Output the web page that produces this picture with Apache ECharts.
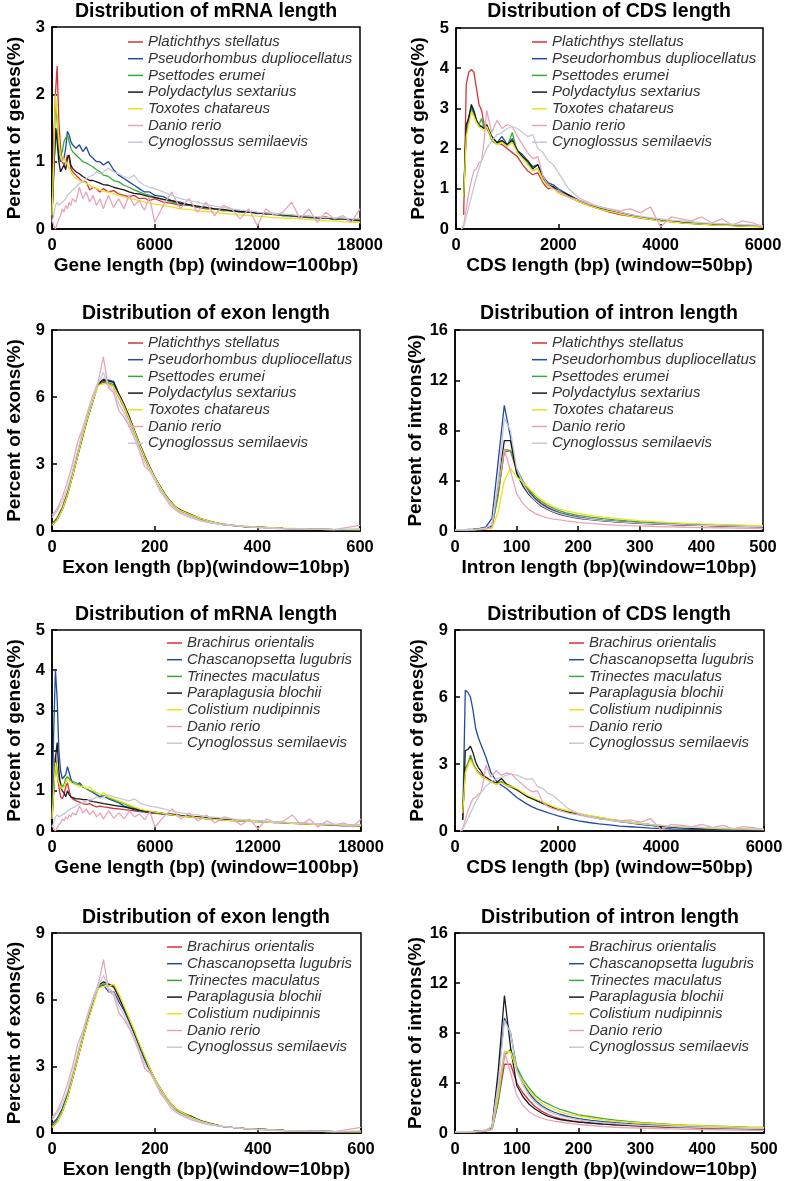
<!DOCTYPE html>
<html>
<head>
<meta charset="utf-8">
<script src="https://cdn.jsdelivr.net/npm/echarts@6/dist/echarts.min.js"></script>
<style>
  body { margin: 0; background: #fff; }
  #chart { width: 788px; height: 1181px; }
</style>
</head>
<body>
<div id="chart"></div>
<script>
// species names
const topSpecies = ['Platichthys stellatus', 'Pseudorhombus dupliocellatus', 'Psettodes erumei',
  'Polydactylus sextarius', 'Toxotes chatareus', 'Danio rerio', 'Cynoglossus semilaevis']
const bottomSpecies = ['Brachirus orientalis', 'Chascanopsetta lugubris', 'Trinectes maculatus',
  'Paraplagusia blochii', 'Colistium nudipinnis', 'Danio rerio', 'Cynoglossus semilaevis']
const speciesColors = ['#d8323a', '#1f4c9e', '#3aa93a', '#1a1a1a', '#ece21c', '#e6a6b8', '#c6c8d6']

// ---- mRNA length (window=100bp) ----
const mrnaX = [0, 100, 200, 300, 400, 500, 600, 700, 800, 900, 1000, 1100, 1200,
  1400, 1600, 1800, 2000, 2200, 2400, 2600, 2800, 3000,
  3300, 3600, 3900, 4200, 4500, 4800, 5100, 5400, 5700, 6000,
  6500, 7000, 7500, 8000, 8500, 9000, 9500, 10000, 10500, 11000, 11500, 12000,
  12500, 13000, 13500, 14000, 14500, 15000, 15500, 16000, 16500, 17000, 17500, 18000]
const mrnaPlatichthys = [0.15, 1.3, 2.0, 2.42, 1.6, 1.2, 1.0, 0.95, 1.0, 1.1, 1.05, 0.9, 0.85,
  0.8, 0.75, 0.7, 0.7, 0.58, 0.62, 0.6, 0.55, 0.6,
  0.55, 0.57, 0.52, 0.5, 0.48, 0.5, 0.45, 0.46, 0.42, 0.45,
  0.4, 0.38, 0.35, 0.36, 0.32, 0.3, 0.3, 0.27, 0.28, 0.25, 0.26, 0.24, 0.22, 0.23, 0.2, 0.21, 0.18, 0.19, 0.17, 0.18, 0.15, 0.16, 0.14, 0.15]
const mrnaPseudorhombus = [0.2, 0.9, 1.3, 1.5, 1.1, 1.0, 1.0, 1.05, 1.2, 1.45, 1.4, 1.3, 1.25,
  1.2, 1.25, 1.15, 1.22, 1.1, 1.05, 1.0, 1.0, 0.95,
  1.0, 0.88, 0.8, 0.75, 0.7, 0.65, 0.6, 0.55, 0.55, 0.5,
  0.48, 0.42, 0.4, 0.36, 0.33, 0.32, 0.3, 0.28, 0.27, 0.26, 0.25, 0.23, 0.24, 0.21, 0.2, 0.19, 0.18, 0.17, 0.16, 0.17, 0.14, 0.15, 0.13, 0.12]
const mrnaPsettodes = [0.2, 1.0, 1.85, 1.6, 1.2, 1.1, 1.15, 1.3, 1.35, 1.4, 1.3, 1.2, 1.15,
  1.1, 1.05, 1.0, 0.98, 0.95, 0.92, 0.88, 0.85, 0.8,
  0.78, 0.72, 0.7, 0.65, 0.62, 0.58, 0.55, 0.52, 0.5, 0.47,
  0.44, 0.4, 0.37, 0.35, 0.33, 0.31, 0.3, 0.28, 0.27, 0.25, 0.26, 0.24, 0.23, 0.22, 0.2, 0.2, 0.19, 0.18, 0.17, 0.17, 0.15, 0.15, 0.14, 0.13]
const mrnaPolydactylus = [0.2, 0.8, 1.5, 1.3, 1.0, 0.85, 0.9, 0.95, 0.88, 1.05, 1.1, 0.95, 0.9,
  0.85, 0.82, 0.78, 0.75, 0.72, 0.72, 0.7, 0.68, 0.66,
  0.65, 0.62, 0.6, 0.58, 0.55, 0.53, 0.52, 0.5, 0.48, 0.47,
  0.44, 0.42, 0.38, 0.36, 0.34, 0.32, 0.3, 0.29, 0.27, 0.26, 0.25, 0.24, 0.23, 0.22, 0.21, 0.2, 0.19, 0.18, 0.17, 0.16, 0.15, 0.15, 0.14, 0.13]
const mrnaToxotes = [0.2, 1.0, 2.0, 1.7, 1.3, 1.1, 1.0, 1.05, 1.0, 0.95, 0.9, 0.85, 0.8,
  0.75, 0.72, 0.7, 0.68, 0.65, 0.62, 0.6, 0.58, 0.56,
  0.55, 0.52, 0.5, 0.48, 0.45, 0.44, 0.42, 0.4, 0.38, 0.37,
  0.35, 0.33, 0.3, 0.29, 0.27, 0.26, 0.25, 0.23, 0.22, 0.21, 0.2, 0.19, 0.18, 0.17, 0.16, 0.16, 0.15, 0.14, 0.13, 0.12, 0.12, 0.11, 0.1, 0.1]
const mrnaDanio = [0.15, 0.05, 0.0, 0.08, 0.15, 0.2, 0.3, 0.25, 0.35, 0.3, 0.4, 0.35, 0.45,
  0.4, 0.62, 0.45, 0.55, 0.4, 0.5, 0.35, 0.45, 0.3,
  0.5, 0.32, 0.45, 0.3, 0.5, 0.35, 0.42, 0.28, 0.48, 0.1,
  0.35, 0.55, 0.3, 0.45, 0.25, 0.4, 0.2, 0.35, 0.3, 0.15, 0.3, 0.05, 0.3, 0.2, 0.25, 0.4, 0.15, 0.3, 0.1, 0.25, 0.15, 0.2, 0.1, 0.3]
const mrnaCynoglossus = [0.1, 0.2, 0.35, 0.4, 0.35, 0.38, 0.4, 0.42, 0.45, 0.5, 0.52, 0.55, 0.58,
  0.62, 0.68, 0.7, 0.75, 0.78, 0.8, 0.85, 0.82, 0.85,
  0.9, 0.85, 0.82, 0.78, 0.75, 0.8, 0.7, 0.65, 0.62, 0.6,
  0.55, 0.5, 0.45, 0.42, 0.4, 0.36, 0.34, 0.32, 0.3, 0.28, 0.27, 0.25, 0.24, 0.23, 0.22, 0.21, 0.2, 0.19, 0.18, 0.17, 0.17, 0.16, 0.15, 0.15]
const mrnaBrachirus = [0.3, 1.2, 1.9, 1.4, 1.1, 0.85, 0.8, 0.9, 1.1, 1.2, 1.0, 0.85, 0.8,
  0.75, 0.72, 0.68, 0.66, 0.68, 0.63, 0.6, 0.62, 0.6,
  0.58, 0.56, 0.55, 0.53, 0.52, 0.5, 0.48, 0.47, 0.45, 0.44,
  0.42, 0.4, 0.38, 0.36, 0.34, 0.32, 0.3, 0.29, 0.27, 0.26, 0.25, 0.24, 0.23, 0.22, 0.21, 0.2, 0.19, 0.18, 0.17, 0.16, 0.15, 0.15, 0.14, 0.13]
const mrnaChascanopsetta = [0.3, 2.5, 4.0, 3.3, 2.0, 1.5, 1.3, 1.35, 1.4, 1.6, 1.45, 1.3, 1.2,
  1.15, 1.2, 1.1, 1.05, 1.0, 0.95, 0.9, 0.85, 0.88,
  0.8, 0.75, 0.7, 0.62, 0.58, 0.52, 0.5, 0.48, 0.45, 0.45,
  0.42, 0.4, 0.37, 0.35, 0.33, 0.3, 0.29, 0.27, 0.26, 0.25, 0.24, 0.23, 0.22, 0.21, 0.2, 0.19, 0.18, 0.17, 0.16, 0.15, 0.14, 0.13, 0.13, 0.12]
const mrnaTrinectes = [0.3, 1.0, 1.8, 1.5, 1.3, 1.2, 1.1, 1.15, 1.3, 1.35, 1.3, 1.25, 1.22,
  1.2, 1.15, 1.1, 1.05, 1.0, 0.98, 0.95, 0.9, 0.88,
  0.82, 0.78, 0.72, 0.68, 0.62, 0.57, 0.53, 0.5, 0.48, 0.46,
  0.43, 0.4, 0.38, 0.36, 0.34, 0.32, 0.3, 0.28, 0.27, 0.26, 0.25, 0.24, 0.23, 0.22, 0.21, 0.2, 0.19, 0.18, 0.17, 0.16, 0.16, 0.15, 0.14, 0.14]
const mrnaParaplagusia = [0.3, 1.0, 1.8, 2.2, 1.5, 1.1, 1.0, 0.95, 0.85, 1.0, 0.9, 0.85, 0.82,
  0.8, 0.8, 0.78, 0.78, 0.75, 0.73, 0.72, 0.7, 0.68,
  0.66, 0.64, 0.62, 0.6, 0.57, 0.55, 0.52, 0.5, 0.48, 0.47,
  0.44, 0.42, 0.39, 0.37, 0.35, 0.33, 0.31, 0.29, 0.28, 0.26, 0.25, 0.24, 0.23, 0.22, 0.21, 0.2, 0.19, 0.18, 0.17, 0.16, 0.15, 0.15, 0.14, 0.13]
const mrnaColistium = [0.3, 1.0, 1.7, 1.4, 1.2, 1.1, 1.05, 1.1, 1.2, 1.3, 1.25, 1.2, 1.18,
  1.15, 1.1, 1.12, 1.05, 1.1, 1.0, 0.95, 0.9, 0.95,
  0.85, 0.8, 0.75, 0.7, 0.65, 0.6, 0.55, 0.52, 0.5, 0.47,
  0.44, 0.4, 0.37, 0.35, 0.33, 0.31, 0.29, 0.27, 0.26, 0.25, 0.24, 0.23, 0.22, 0.21, 0.2, 0.19, 0.18, 0.17, 0.16, 0.15, 0.15, 0.14, 0.13, 0.13]

// ---- CDS length (window=50bp) ----
const cdsX = [100, 150, 200, 250, 300, 350, 400, 450, 500, 550, 600,
  700, 800, 900, 1000, 1100, 1200, 1300, 1400, 1500, 1600, 1700, 1800, 1900, 2000,
  2200, 2400, 2600, 2800, 3000, 3200, 3400, 3600, 3800, 4000, 4200, 4400, 4600, 4800, 5000, 5200, 5400, 5600, 5800, 6000]
const cdsPlatichthys = [null, 0.35, 3.6, 3.9, 3.97, 3.9, 3.5, 3.1, 2.95, 2.6, 2.5,
  2.3, 2.15, 2.1, 2.0, 1.9, 1.8, 1.6, 1.45, 1.35, 1.4, 1.15, 1.0, 1.05, 0.9,
  0.8, 0.68, 0.58, 0.5, 0.42, 0.36, 0.32, 0.27, 0.24, 0.21, 0.18, 0.16, 0.14, 0.12, 0.11, 0.1, 0.09, 0.08, 0.07, 0.06]
const cdsPseudorhombus = [null, 0.8, 2.5, 2.8, 3.05, 2.9, 2.7, 2.6, 2.55, 2.5, 2.55,
  2.25, 2.15, 2.3, 2.1, 2.25, 1.95, 1.85, 1.7, 1.55, 1.6, 1.3, 1.15, 1.1, 1.0,
  0.85, 0.72, 0.62, 0.55, 0.48, 0.42, 0.36, 0.3, 0.26, 0.22, 0.2, 0.17, 0.15, 0.13, 0.12, 0.1, 0.09, 0.08, 0.07, 0.06]
const cdsPsettodes = [null, 0.8, 2.4, 2.7, 3.0, 2.85, 2.7, 2.6, 2.75, 2.5, 2.55,
  2.2, 2.1, 2.2, 2.05, 2.4, 1.9, 1.8, 1.65, 1.45, 1.5, 1.25, 1.1, 1.05, 0.95,
  0.82, 0.7, 0.6, 0.52, 0.45, 0.4, 0.34, 0.29, 0.25, 0.21, 0.19, 0.16, 0.14, 0.12, 0.11, 0.1, 0.09, 0.08, 0.07, 0.06]
const cdsPolydactylus = [null, 0.8, 2.6, 2.75, 3.1, 2.95, 2.7, 2.55, 2.55, 2.5, 2.6,
  2.3, 2.15, 2.2, 2.1, 2.2, 1.95, 1.8, 1.7, 1.5, 1.6, 1.3, 1.1, 1.05, 0.95,
  0.85, 0.7, 0.6, 0.52, 0.46, 0.4, 0.34, 0.29, 0.25, 0.21, 0.19, 0.16, 0.14, 0.12, 0.11, 0.1, 0.09, 0.08, 0.07, 0.06]
const cdsToxotes = [null, 0.8, 2.3, 2.6, 2.9, 2.8, 2.65, 2.55, 2.5, 2.45, 2.55,
  2.25, 2.1, 2.15, 2.05, 2.15, 1.9, 1.75, 1.6, 1.45, 1.5, 1.2, 1.05, 1.0, 0.9,
  0.8, 0.68, 0.58, 0.5, 0.44, 0.38, 0.32, 0.28, 0.24, 0.2, 0.18, 0.15, 0.13, 0.12, 0.1, 0.09, 0.08, 0.07, 0.06, 0.05]
const cdsDanio = [0.0, 0.1, 0.5, 0.9, 1.2, 1.45, 1.5, 1.65, 1.7, 2.2, 2.95,
  2.4, 2.7, 2.5, 2.6, 2.55, 2.3, 2.1, 1.9, 1.75, 1.8, 1.3, 1.1, 1.0, 0.95,
  0.8, 0.72, 0.62, 0.55, 0.5, 0.45, 0.5, 0.4, 0.55, 0.05, 0.3, 0.25, 0.2, 0.3, 0.15, 0.25, 0.1, 0.2, 0.15, 0.05]
const cdsCynoglossus = [0.0, 0.05, 0.3, 0.55, 0.8, 1.05, 1.3, 1.5, 1.7, 1.85, 2.0,
  2.2, 2.35, 2.4, 2.5, 2.55, 2.5, 2.4, 2.3, 2.35, 2.0, 1.9, 1.7, 1.6, 1.4,
  1.0, 0.78, 0.65, 0.55, 0.48, 0.42, 0.36, 0.32, 0.28, 0.25, 0.22, 0.2, 0.18, 0.16, 0.14, 0.13, 0.12, 0.11, 0.1, 0.09]
const cdsBrachirus = [null, 0.8, 2.8, 3.0, 3.3, 3.0, 2.8, 2.65, 2.55, 2.45, 2.4,
  2.25, 2.15, 2.2, 2.05, 1.95, 1.85, 1.7, 1.55, 1.45, 1.35, 1.25, 1.15, 1.05, 0.98,
  0.88, 0.78, 0.68, 0.6, 0.52, 0.45, 0.39, 0.33, 0.28, 0.24, 0.2, 0.17, 0.15, 0.13, 0.11, 0.1, 0.09, 0.08, 0.07, 0.06]
const cdsChascanopsetta = [null, 0.5, 6.3, 6.2, 6.0, 5.4, 4.6, 4.2, 3.9, 3.6, 3.3,
  2.6, 2.25, 2.05, 1.9, 1.7, 1.5, 1.35, 1.2, 1.08, 0.98, 0.9, 0.82, 0.75, 0.68,
  0.55, 0.45, 0.38, 0.32, 0.27, 0.22, 0.19, 0.16, 0.13, 0.11, 0.09, 0.08, 0.07, 0.06, 0.05, 0.05, 0.04, 0.04, 0.03, 0.03]
const cdsTrinectes = [null, 0.8, 2.8, 3.0, 3.4, 3.05, 2.8, 2.6, 2.5, 2.4, 2.35,
  2.2, 2.1, 2.2, 2.05, 1.95, 1.85, 1.7, 1.55, 1.45, 1.35, 1.25, 1.15, 1.05, 0.98,
  0.88, 0.78, 0.68, 0.6, 0.52, 0.45, 0.39, 0.33, 0.28, 0.24, 0.2, 0.17, 0.15, 0.13, 0.11, 0.1, 0.09, 0.08, 0.07, 0.06]
const cdsParaplagusia = [null, 0.5, 3.6, 3.65, 3.8, 3.5, 3.1, 2.85, 2.7, 2.5, 2.4,
  2.25, 2.15, 2.35, 2.1, 2.0, 1.85, 1.7, 1.55, 1.45, 1.35, 1.25, 1.15, 1.05, 0.95,
  0.85, 0.75, 0.65, 0.56, 0.5, 0.42, 0.36, 0.3, 0.25, 0.2, 0.17, 0.14, 0.12, 0.1, 0.08, 0.07, 0.06, 0.05, 0.05, 0.04]
const cdsColistium = [null, 0.8, 2.6, 2.9, 3.2, 2.95, 2.75, 2.6, 2.5, 2.4, 2.35,
  2.2, 2.1, 2.15, 2.05, 2.0, 1.9, 1.75, 1.6, 1.5, 1.4, 1.3, 1.2, 1.1, 1.02,
  0.9, 0.8, 0.7, 0.62, 0.54, 0.47, 0.4, 0.34, 0.29, 0.25, 0.21, 0.18, 0.16, 0.14, 0.12, 0.1, 0.09, 0.08, 0.07, 0.06]

// ---- exon length (window=10bp) ----
const exonX = [0, 10, 20, 30, 40, 50, 60, 70, 80, 90, 100, 110, 120, 130, 140, 150, 160, 170, 180, 190, 200,
  210, 220, 230, 240, 250, 270, 290, 310, 330, 350, 375, 400, 450, 500, 550, 600]
const exonPlatichthys = [0.3, 0.6, 1.05, 1.7, 2.6, 3.5, 4.4, 5.2, 5.9, 6.55, 6.65, 6.6, 6.45, 6.0, 5.55, 5.0, 4.45, 3.85, 3.3, 2.8, 2.35,
  1.95, 1.6, 1.3, 1.05, 0.9, 0.7, 0.52, 0.4, 0.3, 0.25, 0.2, 0.17, 0.12, 0.08, 0.06, 0.05]
const exonPseudorhombus = [0.3, 0.55, 1.0, 1.65, 2.5, 3.4, 4.3, 5.1, 5.85, 6.6, 6.8, 6.75, 6.7, 6.15, 5.65, 5.1, 4.5, 3.9, 3.35, 2.85, 2.4,
  2.0, 1.62, 1.32, 1.07, 0.92, 0.72, 0.53, 0.4, 0.3, 0.25, 0.2, 0.17, 0.12, 0.08, 0.06, 0.05]
const exonPsettodes = [0.3, 0.55, 1.0, 1.65, 2.5, 3.4, 4.3, 5.15, 5.9, 6.6, 6.7, 6.65, 6.55, 6.1, 5.6, 5.05, 4.5, 3.9, 3.35, 2.85, 2.4,
  2.0, 1.62, 1.32, 1.07, 0.92, 0.72, 0.53, 0.4, 0.3, 0.25, 0.2, 0.17, 0.12, 0.08, 0.06, 0.05]
const exonPolydactylus = [0.25, 0.5, 0.95, 1.6, 2.45, 3.35, 4.25, 5.1, 5.85, 6.6, 6.75, 6.72, 6.65, 6.15, 5.7, 5.15, 4.55, 3.95, 3.4, 2.9, 2.42,
  2.02, 1.65, 1.35, 1.1, 0.95, 0.75, 0.55, 0.42, 0.32, 0.26, 0.2, 0.17, 0.12, 0.08, 0.06, 0.05]
const exonToxotes = [0.25, 0.5, 0.95, 1.6, 2.45, 3.35, 4.3, 5.1, 5.85, 6.5, 6.6, 6.55, 6.45, 6.05, 5.6, 5.05, 4.5, 3.9, 3.35, 2.85, 2.4,
  2.0, 1.62, 1.32, 1.08, 0.92, 0.72, 0.55, 0.42, 0.32, 0.26, 0.22, 0.18, 0.13, 0.09, 0.07, 0.06]
const exonDanio = [0.7, 1.0, 1.5, 2.2, 3.0, 4.0, 4.6, 5.4, 6.1, 6.7, 7.8, 6.4, 6.2, 5.4, 5.1, 4.7, 4.2, 3.6, 2.9, 2.7, 2.3,
  1.8, 1.5, 1.15, 0.95, 0.8, 0.6, 0.45, 0.35, 0.3, 0.25, 0.2, 0.15, 0.1, 0.08, 0.06, 0.25]
const exonCynoglossus = [0.6, 0.9, 1.3, 1.9, 2.7, 3.6, 4.5, 5.3, 6.0, 6.6, 7.1, 6.5, 6.3, 5.7, 5.3, 4.8, 4.3, 3.7, 3.1, 2.75, 2.35,
  1.9, 1.55, 1.25, 1.0, 0.85, 0.65, 0.48, 0.37, 0.3, 0.25, 0.2, 0.16, 0.11, 0.08, 0.06, 0.1]
const exonBrachirus = [0.3, 0.55, 1.0, 1.65, 2.5, 3.4, 4.3, 5.1, 5.85, 6.55, 6.7, 6.65, 6.55, 6.1, 5.6, 5.05, 4.5, 3.9, 3.35, 2.85, 2.4,
  2.0, 1.62, 1.32, 1.07, 0.92, 0.72, 0.53, 0.4, 0.3, 0.25, 0.2, 0.17, 0.12, 0.08, 0.06, 0.05]
const exonChascanopsetta = [0.4, 0.65, 1.1, 1.75, 2.6, 3.5, 4.35, 5.15, 5.9, 6.6, 6.65, 6.35, 6.35, 5.9, 5.5, 5.0, 4.45, 3.85, 3.3, 2.8, 2.35,
  1.95, 1.6, 1.3, 1.05, 0.9, 0.75, 0.55, 0.42, 0.3, 0.25, 0.2, 0.17, 0.12, 0.08, 0.06, 0.05]
const exonTrinectes = [0.3, 0.55, 1.0, 1.65, 2.5, 3.4, 4.3, 5.1, 5.85, 6.55, 6.7, 6.65, 6.6, 6.15, 5.65, 5.1, 4.55, 3.95, 3.4, 2.9, 2.42,
  2.0, 1.62, 1.32, 1.07, 0.92, 0.7, 0.5, 0.4, 0.3, 0.25, 0.2, 0.17, 0.12, 0.08, 0.06, 0.05]
const exonParaplagusia = [0.25, 0.5, 0.95, 1.6, 2.45, 3.35, 4.25, 5.1, 5.9, 6.65, 6.8, 6.7, 6.6, 6.1, 5.6, 5.1, 4.5, 3.95, 3.4, 2.9, 2.42,
  2.02, 1.65, 1.35, 1.1, 0.95, 0.75, 0.52, 0.4, 0.3, 0.25, 0.2, 0.17, 0.12, 0.08, 0.06, 0.05]
const exonColistium = [0.25, 0.5, 0.95, 1.6, 2.45, 3.35, 4.25, 5.05, 5.8, 6.5, 6.6, 6.6, 6.7, 6.25, 5.7, 5.15, 4.6, 4.0, 3.45, 2.9, 2.45,
  2.02, 1.65, 1.35, 1.1, 0.95, 0.72, 0.52, 0.4, 0.3, 0.25, 0.2, 0.17, 0.12, 0.08, 0.06, 0.05]

// ---- intron length (window=10bp) ----
const intronX = [0, 10, 20, 30, 40, 50, 60, 70, 80, 90, 100, 110, 120, 130, 140, 150, 160, 170, 180, 190, 200,
  220, 240, 260, 280, 300, 325, 350, 375, 400, 425, 450, 475, 500]
const intronPlatichthys = [0.1, 0.1, 0.1, 0.12, 0.15, 0.2, 0.3, 3.0, 6.3, 6.4, 4.8, 3.9, 3.2, 2.6, 2.2, 1.9, 1.65, 1.45, 1.3, 1.2, 1.1,
  0.95, 0.85, 0.77, 0.7, 0.64, 0.58, 0.53, 0.49, 0.46, 0.43, 0.4, 0.37, 0.35]
const intronPseudorhombus = [0.1, 0.1, 0.12, 0.15, 0.2, 0.3, 1.0, 5.5, 10.0, 7.5, 4.8, 3.8, 3.1, 2.55, 2.15, 1.85, 1.62, 1.45, 1.3, 1.2, 1.1,
  0.95, 0.85, 0.77, 0.7, 0.64, 0.58, 0.53, 0.49, 0.46, 0.43, 0.4, 0.37, 0.35]
const intronPsettodes = [0.1, 0.1, 0.1, 0.12, 0.15, 0.2, 0.3, 2.8, 6.5, 6.4, 5.0, 4.0, 3.3, 2.75, 2.35, 2.05, 1.8, 1.6, 1.45, 1.35, 1.25,
  1.1, 0.98, 0.88, 0.8, 0.73, 0.66, 0.6, 0.55, 0.51, 0.48, 0.45, 0.42, 0.4]
const intronPolydactylus = [0.1, 0.1, 0.1, 0.12, 0.15, 0.2, 0.4, 3.5, 7.2, 7.2, 4.6, 3.6, 2.9, 2.4, 2.0, 1.72, 1.5, 1.33, 1.2, 1.1, 1.0,
  0.9, 0.8, 0.72, 0.66, 0.6, 0.55, 0.51, 0.47, 0.44, 0.41, 0.38, 0.36, 0.34]
const intronToxotes = [0.1, 0.1, 0.1, 0.12, 0.15, 0.18, 0.2, 1.5, 4.0, 5.0, 4.3, 3.9, 3.4, 2.9, 2.5, 2.2, 1.95, 1.75, 1.6, 1.5, 1.4,
  1.25, 1.1, 1.0, 0.9, 0.82, 0.74, 0.67, 0.61, 0.56, 0.52, 0.48, 0.45, 0.42]
const intronDanio = [0.1, 0.1, 0.1, 0.1, 0.12, 0.15, 0.3, 3.5, 6.5, 4.8, 3.0, 2.2, 1.7, 1.4, 1.2, 1.05, 0.95, 0.88, 0.8, 0.75, 0.68,
  0.6, 0.52, 0.46, 0.42, 0.4, 0.36, 0.33, 0.3, 0.28, 0.26, 0.24, 0.22, 0.2]
const intronCynoglossus = [0.1, 0.1, 0.1, 0.12, 0.15, 0.25, 0.5, 4.0, 9.0, 8.0, 5.0, 3.8, 3.0, 2.45, 2.05, 1.75, 1.55, 1.38, 1.25, 1.15, 1.05,
  0.92, 0.82, 0.75, 0.68, 0.62, 0.57, 0.52, 0.48, 0.45, 0.42, 0.39, 0.37, 0.35]
const intronBrachirus = [0.1, 0.1, 0.1, 0.12, 0.15, 0.2, 0.3, 2.5, 5.5, 5.5, 4.0, 3.2, 2.6, 2.1, 1.75, 1.5, 1.3, 1.15, 1.05, 0.97, 0.9,
  0.8, 0.72, 0.65, 0.6, 0.55, 0.5, 0.46, 0.43, 0.4, 0.37, 0.35, 0.33, 0.3]
const intronChascanopsetta = [0.1, 0.1, 0.1, 0.12, 0.15, 0.2, 0.4, 4.5, 9.2, 8.0, 5.2, 4.0, 3.2, 2.6, 2.2, 1.9, 1.68, 1.5, 1.36, 1.25, 1.15,
  1.0, 0.9, 0.82, 0.75, 0.68, 0.62, 0.57, 0.53, 0.5, 0.47, 0.44, 0.41, 0.39]
const intronTrinectes = [0.1, 0.1, 0.1, 0.12, 0.15, 0.2, 0.3, 2.5, 6.2, 6.7, 5.3, 4.3, 3.6, 3.0, 2.6, 2.35, 2.1, 1.9, 1.75, 1.6, 1.45,
  1.3, 1.15, 1.02, 0.92, 0.84, 0.76, 0.69, 0.63, 0.58, 0.54, 0.5, 0.47, 0.45]
const intronParaplagusia = [0.1, 0.1, 0.1, 0.12, 0.15, 0.2, 0.5, 5.0, 11.0, 6.8, 3.8, 2.9, 2.3, 1.9, 1.6, 1.35, 1.2, 1.08, 1.0, 0.93, 0.87,
  0.8, 0.72, 0.66, 0.61, 0.57, 0.53, 0.5, 0.46, 0.43, 0.4, 0.37, 0.33, 0.3]
const intronColistium = [0.1, 0.1, 0.1, 0.12, 0.15, 0.2, 0.3, 3.0, 6.5, 6.5, 5.0, 4.1, 3.4, 2.8, 2.4, 2.1, 1.9, 1.7, 1.55, 1.45, 1.35,
  1.2, 1.05, 0.95, 0.87, 0.8, 0.73, 0.66, 0.6, 0.56, 0.52, 0.48, 0.45, 0.42]

// panel setup: text, axes and where each panel sits
const panels = [
  { title: 'Distribution of mRNA length', xName: 'Gene length (bp) (window=100bp)', yName: 'Percent of genes(%)',
    x: mrnaX, xMax: 18000, xStep: 6000, yMax: 3, yStep: 1, names: topSpecies,
    ys: [mrnaPlatichthys, mrnaPseudorhombus, mrnaPsettodes, mrnaPolydactylus, mrnaToxotes, mrnaDanio, mrnaCynoglossus],
    grid: [52, 27, 308, 202], titleAt: [206, 1], legendAt: [128, 34] },
  { title: 'Distribution of CDS length', xName: 'CDS length (bp) (window=50bp)', yName: 'Percent of genes(%)',
    x: cdsX, xMax: 6000, xStep: 2000, yMax: 5, yStep: 1, names: topSpecies,
    ys: [cdsPlatichthys, cdsPseudorhombus, cdsPsettodes, cdsPolydactylus, cdsToxotes, cdsDanio, cdsCynoglossus],
    grid: [456, 28, 307, 201], titleAt: [609, 1], legendAt: [532, 34] },
  { title: 'Distribution of exon length', xName: 'Exon length (bp)(window=10bp)', yName: 'Percent of exons(%)',
    x: exonX, xMax: 600, xStep: 200, yMax: 9, yStep: 3, names: topSpecies,
    ys: [exonPlatichthys, exonPseudorhombus, exonPsettodes, exonPolydactylus, exonToxotes, exonDanio, exonCynoglossus],
    grid: [52, 330, 308, 201], titleAt: [206, 303], legendAt: [128, 335] },
  { title: 'Distribution of intron length', xName: 'Intron length (bp)(window=10bp)', yName: 'Percent of introns(%)',
    x: intronX, xMax: 500, xStep: 100, yMax: 16, yStep: 4, names: topSpecies,
    ys: [intronPlatichthys, intronPseudorhombus, intronPsettodes, intronPolydactylus, intronToxotes, intronDanio, intronCynoglossus],
    grid: [455, 330, 308, 201], titleAt: [609, 303], legendAt: [532, 335] },
  { title: 'Distribution of mRNA length', xName: 'Gene length (bp) (window=100bp)', yName: 'Percent of genes(%)',
    x: mrnaX, xMax: 18000, xStep: 6000, yMax: 5, yStep: 1, names: bottomSpecies,
    ys: [mrnaBrachirus, mrnaChascanopsetta, mrnaTrinectes, mrnaParaplagusia, mrnaColistium, mrnaDanio, mrnaCynoglossus],
    grid: [52, 630, 309, 201], titleAt: [206, 604], legendAt: [167, 635] },
  { title: 'Distribution of CDS length', xName: 'CDS length (bp) (window=50bp)', yName: 'Percent of genes(%)',
    x: cdsX, xMax: 6000, xStep: 2000, yMax: 9, yStep: 3, names: bottomSpecies,
    ys: [cdsBrachirus, cdsChascanopsetta, cdsTrinectes, cdsParaplagusia, cdsColistium, cdsDanio, cdsCynoglossus],
    grid: [455, 630, 309, 201], titleAt: [609, 604], legendAt: [569, 635] },
  { title: 'Distribution of exon length', xName: 'Exon length (bp)(window=10bp)', yName: 'Percent of exons(%)',
    x: exonX, xMax: 600, xStep: 200, yMax: 9, yStep: 3, names: bottomSpecies,
    ys: [exonBrachirus, exonChascanopsetta, exonTrinectes, exonParaplagusia, exonColistium, exonDanio, exonCynoglossus],
    grid: [52, 933, 309, 200], titleAt: [206, 907], legendAt: [167, 939] },
  { title: 'Distribution of intron length', xName: 'Intron length (bp)(window=10bp)', yName: 'Percent of introns(%)',
    x: intronX, xMax: 500, xStep: 100, yMax: 16, yStep: 4, names: bottomSpecies,
    ys: [intronBrachirus, intronChascanopsetta, intronTrinectes, intronParaplagusia, intronColistium, intronDanio, intronCynoglossus],
    grid: [455, 933, 309, 200], titleAt: [610, 907], legendAt: [569, 939] }
]

const FONT = '"Liberation Sans", Arial, sans-serif'
const axisText = { color: '#000', fontWeight: 'bold', fontSize: 16.5, fontFamily: FONT }
const nameText = { color: '#000', fontWeight: 'bold', fontSize: 19, fontFamily: FONT }
const plainNumber = v => String(v)

const option = {
  animation: false,
  backgroundColor: '#fff',
  title: [], grid: [], xAxis: [], yAxis: [], legend: [], series: []
}

panels.forEach((p, i) => {
  option.title.push({
    text: p.title, left: p.titleAt[0], top: p.titleAt[1], textAlign: 'center', padding: 0,
    textStyle: { ...nameText, fontSize: 19.5, lineHeight: 22 }
  })
  option.grid.push({
    left: p.grid[0], top: p.grid[1], width: p.grid[2], height: p.grid[3],
    show: true, borderColor: '#000', borderWidth: 1.5, backgroundColor: 'transparent'
  })
  option.xAxis.push({
    type: 'value', gridIndex: i, min: 0, max: p.xMax, interval: p.xStep,
    name: p.xName, nameLocation: 'middle', nameGap: 27, nameTextStyle: nameText,
    axisLine: { show: true, onZero: false, lineStyle: { color: '#000', width: 1.5 } },
    axisTick: { show: true, inside: true, length: 5, lineStyle: { color: '#000', width: 1.5 } },
    axisLabel: { ...axisText, margin: 8, formatter: plainNumber },
    splitLine: { show: false }
  })
  option.yAxis.push({
    type: 'value', gridIndex: i, min: 0, max: p.yMax, interval: p.yStep,
    name: p.yName, nameLocation: 'middle', nameGap: 28, nameTextStyle: nameText,
    axisLine: { show: true, onZero: false, lineStyle: { color: '#000', width: 1.5 } },
    axisTick: { show: true, inside: true, length: 5, lineStyle: { color: '#000', width: 1.5 } },
    axisLabel: { ...axisText, margin: 7, formatter: plainNumber },
    splitLine: { show: false }
  })
  option.legend.push({
    orient: 'vertical', left: p.legendAt[0], top: p.legendAt[1], padding: 0,
    data: p.names, icon: 'rect', itemWidth: 15, itemHeight: 1.5, itemGap: 0.7,
    selectedMode: false,
    textStyle: { color: '#333', fontStyle: 'italic', fontSize: 15, lineHeight: 16, fontFamily: FONT }
  })
  p.names.forEach((name, k) => {
    option.series.push({
      name, type: 'line', xAxisIndex: i, yAxisIndex: i,
      data: p.x.map((xv, j) => [xv, p.ys[k][j]]),
      showSymbol: false, symbol: 'none',
      color: speciesColors[k],
      lineStyle: { width: 1.3, color: speciesColors[k] },
      emphasis: { disabled: true }
    })
  })
})

const chart = echarts.init(document.getElementById('chart'))
chart.setOption(option)
</script>
</body>
</html>
